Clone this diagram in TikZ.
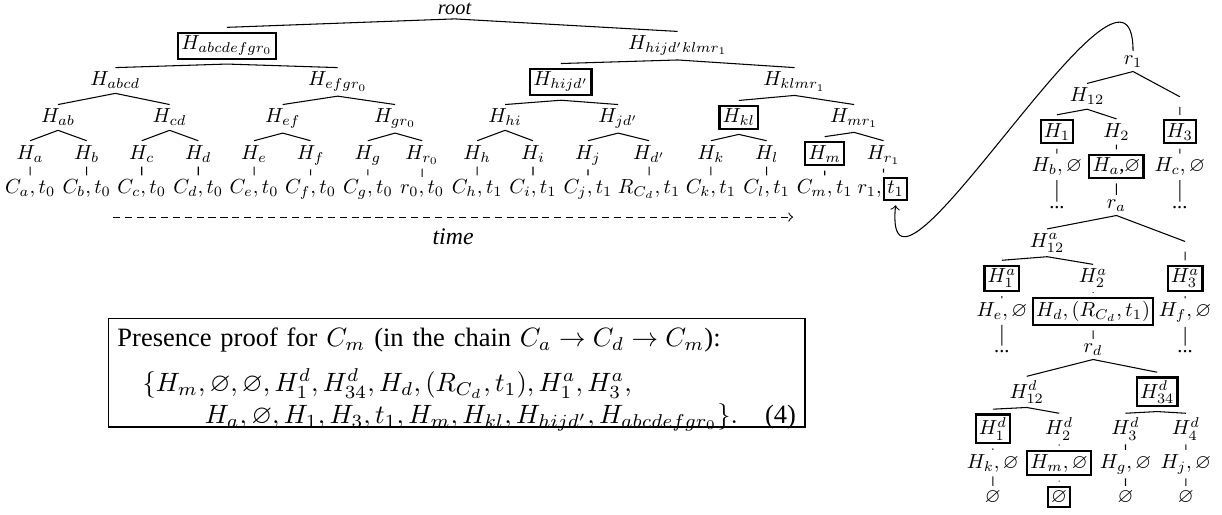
\documentclass[tikz,border=0pt]{standalone}
\usepackage{amssymb}
\usepackage[no-math]{fontspec}
\setmainfont{Liberation Serif}
\usetikzlibrary{calc}

\tikzset{
  hnode/.style={anchor=base, scale=0.77, inner sep=1.95pt},
  hbox/.style={hnode, draw, line width=0.8pt, inner sep=1.55pt, outer sep=2.6pt},
  gap/.style={inner sep=0pt, minimum size=0.12cm},
}

\begin{document}
\begin{tikzpicture}
\useasboundingbox (0,0) rectangle (16.21,-6.82);
% the tree over the whole chain
\node[hnode, font=\itshape] (root) at (6.03,-0.19) {root};
\node[hbox] (Habcdefgr) at (3.01,-0.66) {$H_{abcdefgr_0}$};
\node[hnode] (Hhijdklmr) at (8.99,-0.66) {$H_{hijd'klmr_1}$};
\node[hnode] (Habcd) at (1.53,-1.14) {$H_{abcd}$};
\node[hnode] (Hefgr) at (4.48,-1.14) {$H_{efgr_0}$};
\node[hbox] (Hhijd) at (7.44,-1.14) {$H_{hijd'}$};
\node[hnode] (Hklmr) at (10.54,-1.14) {$H_{klmr_1}$};
\node[hnode] (Hab) at (0.77,-1.63) {$H_{ab}$};
\node[hnode] (Hcd) at (2.25,-1.63) {$H_{cd}$};
\node[hnode] (Hef) at (3.75,-1.63) {$H_{ef}$};
\node[hnode] (Hgr) at (5.24,-1.63) {$H_{gr_0}$};
\node[hnode] (Hhi) at (6.70,-1.63) {$H_{hi}$};
\node[hnode] (Hjd) at (8.20,-1.63) {$H_{jd'}$};
\node[hbox] (Hkl) at (9.80,-1.63) {$H_{kl}$};
\node[hnode] (Hmr) at (11.33,-1.63) {$H_{mr_1}$};
\node[hnode] (Ha) at (0.40,-2.11) {$H_a$};
\node[hnode] (Hb) at (1.15,-2.11) {$H_b$};
\node[hnode] (Hc) at (1.88,-2.11) {$H_c$};
\node[hnode] (Hd) at (2.63,-2.11) {$H_d$};
\node[hnode] (He) at (3.37,-2.11) {$H_e$};
\node[hnode] (Hf) at (4.12,-2.11) {$H_f$};
\node[hnode] (Hg) at (4.88,-2.11) {$H_g$};
\node[hnode] (Hr0) at (5.60,-2.11) {$H_{r_0}$};
\node[hnode] (Hh) at (6.33,-2.11) {$H_h$};
\node[hnode] (Hi) at (7.07,-2.11) {$H_i$};
\node[hnode] (Hj) at (7.80,-2.11) {$H_j$};
\node[hnode] (Hdd) at (8.61,-2.11) {$H_{d'}$};
\node[hnode] (Hk) at (9.43,-2.11) {$H_k$};
\node[hnode] (Hl) at (10.17,-2.11) {$H_l$};
\node[hbox] (Hm) at (10.94,-2.11) {$H_m$};
\node[hnode] (Hr1) at (11.72,-2.11) {$H_{r_1}$};
\node[hnode] (Ca) at (0.40,-2.57) {$C_a, t_0$};
\node[hnode] (Cb) at (1.15,-2.57) {$C_b, t_0$};
\node[hnode] (Cc) at (1.88,-2.57) {$C_c, t_0$};
\node[hnode] (Cd) at (2.63,-2.57) {$C_d, t_0$};
\node[hnode] (Ce) at (3.37,-2.57) {$C_e, t_0$};
\node[hnode] (Cf) at (4.12,-2.57) {$C_f, t_0$};
\node[hnode] (Cg) at (4.88,-2.57) {$C_g, t_0$};
\node[hnode] (r0) at (5.60,-2.57) {$r_0, t_0$};
\node[hnode] (Ch) at (6.33,-2.57) {$C_h, t_1$};
\node[hnode] (Ci) at (7.07,-2.57) {$C_i, t_1$};
\node[hnode] (Cj) at (7.80,-2.57) {$C_j, t_1$};
\node[hnode] (RCd) at (8.61,-2.57) {$R_{C_d}, t_1$};
\node[hnode] (Ck) at (9.43,-2.57) {$C_k, t_1$};
\node[hnode] (Cl) at (10.17,-2.57) {$C_l, t_1$};
\node[hnode] (Cm) at (10.94,-2.57) {$C_m, t_1$};
\node[hbox] (t1) at (11.88,-2.57) {$t_1$};
\node[hnode, anchor=base east, inner sep=0.6pt, xshift=2.2pt] (r1) at (t1.base west) {$r_1,$};
\draw (root.south) -- (Habcdefgr.north) (root.south) -- (Hhijdklmr.north);
\draw (Habcdefgr.south) -- (Habcd.north) (Habcdefgr.south) -- (Hefgr.north);
\draw (Hhijdklmr.south) -- (Hhijd.north) (Hhijdklmr.south) -- (Hklmr.north);
\draw (Habcd.south) -- (Hab.north) (Habcd.south) -- (Hcd.north);
\draw (Hefgr.south) -- (Hef.north) (Hefgr.south) -- (Hgr.north);
\draw (Hhijd.south) -- (Hhi.north) (Hhijd.south) -- (Hjd.north);
\draw (Hklmr.south) -- (Hkl.north) (Hklmr.south) -- (Hmr.north);
\draw (Hab.south) -- (Ha.north) (Hab.south) -- (Hb.north);
\draw (Hcd.south) -- (Hc.north) (Hcd.south) -- (Hd.north);
\draw (Hef.south) -- (He.north) (Hef.south) -- (Hf.north);
\draw (Hgr.south) -- (Hg.north) (Hgr.south) -- (Hr0.north);
\draw (Hhi.south) -- (Hh.north) (Hhi.south) -- (Hi.north);
\draw (Hjd.south) -- (Hj.north) (Hjd.south) -- (Hdd.north);
\draw (Hkl.south) -- (Hk.north) (Hkl.south) -- (Hl.north);
\draw (Hmr.south) -- (Hm.north) (Hmr.south) -- (Hr1.north);
\draw (Ha) -- (Ca) (Hb) -- (Cb) (Hc) -- (Cc) (Hd) -- (Cd);
\draw (He) -- (Ce) (Hf) -- (Cf) (Hg) -- (Cg) (Hr0) -- (r0);
\draw (Hh) -- (Ch) (Hi) -- (Ci) (Hj) -- (Cj) (Hdd) -- (RCd);
\draw (Hk) -- (Ck) (Hl) -- (Cl) (Hm) -- (Cm) (Hr1.south) -- (Hr1.south |- t1.north);
% time axis
\coordinate (tstart) at (1.50,-2.88);
\coordinate (tend) at (10.52,-2.88);
\draw[->, dash pattern=on 2.7pt off 1.8pt] (tstart) -- (tend);
\node[font=\small\itshape] (time) at (6.01,-3.14) {time};
% the tree for r_1 and the ones below
\node[hnode] (rr1) at (15.03,-0.85) {$r_1$};
\node[hnode] (H12) at (14.42,-1.35) {$H_{12}$};
\node[gap] (e1) at (15.65,-1.35) {};
\node[hbox] (H1) at (14.02,-1.82) {$H_1$};
\node[hnode] (H2) at (14.81,-1.82) {$H_2$};
\node[hbox] (H3) at (15.65,-1.82) {$H_3$};
\node[hnode] (Hb0) at (14.02,-2.28) {$H_b, \varnothing$};
\node[hbox] (Ha0) at (14.81,-2.28) {$H_a$,$\varnothing$};
\node[hnode] (Hc0) at (15.65,-2.28) {$H_c, \varnothing$};
\node[hnode] (dotsb) at (14.02,-2.76) {...};
\node[hnode] (ra) at (14.81,-2.76) {$r_a$};
\node[hnode] (dotsc) at (15.65,-2.76) {...};
\node[hnode] (H12a) at (13.89,-3.28) {$H_{12}^a$};
\node[gap] (e2) at (15.72,-3.27) {};
\node[hbox] (H1a) at (13.29,-3.75) {$H_1^a$};
\node[hnode] (H2a) at (14.50,-3.75) {$H_2^a$};
\node[hbox] (H3a) at (15.72,-3.75) {$H_3^a$};
\node[hnode] (He0) at (13.29,-4.20) {$H_e, \varnothing$};
\node[hbox] (HdR) at (14.50,-4.20) {$H_d, (R_{C_d}, t_1)$};
\node[hnode] (Hf0) at (15.72,-4.20) {$H_f, \varnothing$};
\node[hnode] (dotse) at (13.29,-4.67) {...};
\node[hnode] (rd) at (14.50,-4.67) {$r_d$};
\node[hnode] (dotsf) at (15.72,-4.67) {...};
\node[hnode] (H12d) at (13.62,-5.28) {$H_{12}^d$};
\node[hbox] (H34d) at (15.35,-5.28) {$H_{34}^d$};
\node[hbox] (H1d) at (13.17,-5.77) {$H_1^d$};
\node[hnode] (H2d) at (14.05,-5.77) {$H_2^d$};
\node[hnode] (H3d) at (14.93,-5.77) {$H_3^d$};
\node[hnode] (H4d) at (15.73,-5.77) {$H_4^d$};
\node[hnode] (Hk0) at (13.17,-6.21) {$H_k, \varnothing$};
\node[hbox] (Hm0) at (14.05,-6.21) {$H_m, \varnothing$};
\node[hnode] (Hg0) at (14.93,-6.21) {$H_g, \varnothing$};
\node[hnode] (Hj0) at (15.73,-6.21) {$H_j, \varnothing$};
\node[hnode] (n1) at (13.17,-6.66) {$\varnothing$};
\node[hbox] (n2) at (14.05,-6.66) {$\varnothing$};
\node[hnode] (n3) at (14.93,-6.66) {$\varnothing$};
\node[hnode] (n4) at (15.73,-6.66) {$\varnothing$};
\draw (rr1.south) -- (H12.north) (rr1.south) -- (e1.north) (e1.south) -- (H3.north);
\draw (H12.south) -- (H1.north) (H12.south) -- (H2.north);
\draw (H1) -- (Hb0) (H2) -- (Ha0) (H3) -- (Hc0);
\draw (Hb0) -- (dotsb) (Ha0) -- (ra) (Hc0) -- (dotsc);
\draw (ra.south) -- (H12a.north) (ra.south) -- (e2.north) (e2.south) -- (H3a.north);
\draw (H12a.south) -- (H1a.north) (H12a.south) -- (H2a.north);
\draw (H1a) -- (He0) (H2a) -- (HdR) (H3a) -- (Hf0);
\draw (He0) -- (dotse) (HdR) -- (rd) (Hf0) -- (dotsf);
\draw (rd.south) -- (H12d.north) (rd.south) -- (H34d.north);
\draw (H12d.south) -- (H1d.north) (H12d.south) -- (H2d.north);
\draw (H34d.south) -- (H3d.north) (H34d.south) -- (H4d.north);
\draw (H1d) -- (Hk0) (H2d) -- (Hm0) (H3d) -- (Hg0) (H4d) -- (Hj0);
\draw (Hk0) -- (n1) (Hm0) -- (n2) (Hg0) -- (n3) (Hj0) -- (n4);
% r_1 points back to t_1
\draw[->] (rr1.north) .. controls +(0,1.9) and +(-0.19,-1.97) .. (t1.south);
% the proof
\node[draw, line width=0.5pt, anchor=north west, inner sep=3.4pt, text width=9.0cm, text depth=27pt, align=left] (proof) at (1.43,-4.22) {Presence proof for $C_m$ (in the chain $C_a \rightarrow C_d \rightarrow C_m$):\\[5pt]
\hspace*{0.95em}$\{H_m, \varnothing, \varnothing, H_1^d, H_{34}^d, H_d, (R_{C_d}, t_1), H_1^a, H_3^a,$\\
\hspace*{3.3em}$H_a, \varnothing, H_1, H_3, t_1, H_m, H_{kl}, H_{hijd'}, H_{abcdefgr_0}\}.$\hfill(4)};
\end{tikzpicture}
\end{document}
